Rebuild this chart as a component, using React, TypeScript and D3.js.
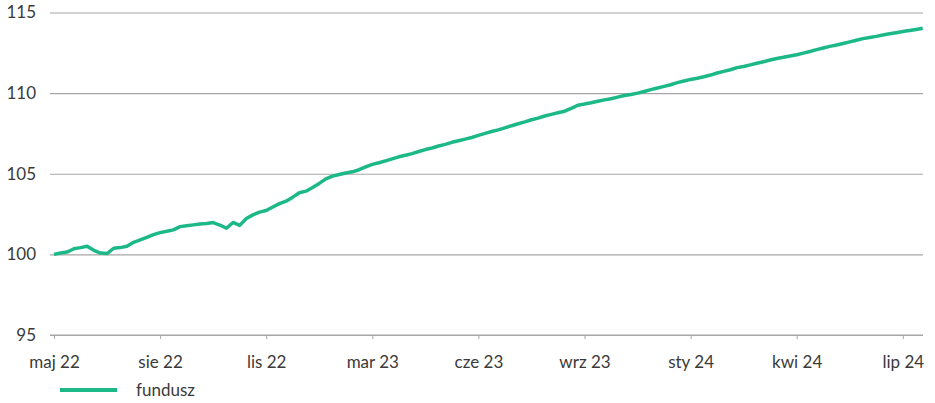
import React, { useEffect, useRef } from 'react';
import * as d3 from 'd3';

// fund value index, one point per period
const fundValues: number[] = [
  100.0, 100.08, 100.15, 100.35, 100.42, 100.5, 100.25, 100.08, 100.05, 100.38,
  100.42, 100.5, 100.75, 100.9, 101.05, 101.22, 101.35, 101.43, 101.52, 101.72,
  101.78, 101.83, 101.88, 101.92, 101.97, 101.82, 101.62, 101.98, 101.8, 102.22,
  102.45, 102.62, 102.72, 102.94, 103.15, 103.3, 103.55, 103.82, 103.92, 104.15,
  104.4, 104.68, 104.85, 104.95, 105.05, 105.12, 105.25, 105.42, 105.58, 105.68,
  105.8, 105.92, 106.05, 106.15, 106.25, 106.38, 106.5, 106.6, 106.72, 106.82,
  106.95, 107.05, 107.15, 107.25, 107.38, 107.5, 107.62, 107.72, 107.85, 107.98,
  108.1, 108.22, 108.35, 108.45, 108.58, 108.68, 108.78, 108.88, 109.05, 109.25,
  109.32, 109.4, 109.5, 109.58, 109.65, 109.75, 109.85, 109.92, 110.0, 110.1,
  110.22, 110.32, 110.42, 110.52, 110.65, 110.75, 110.85, 110.92, 111.02, 111.12,
  111.25, 111.35, 111.45, 111.58, 111.65, 111.75, 111.85, 111.95, 112.05, 112.15,
  112.22, 112.3, 112.38, 112.48, 112.58, 112.7, 112.8, 112.9, 112.98, 113.08,
  113.18, 113.28, 113.38, 113.45, 113.52, 113.6, 113.68, 113.75, 113.82, 113.88,
  113.95, 114.02,
];

// one label every 16 points
const tickLabels: string[] = [
  'maj 22', 'sie 22', 'lis 22', 'mar 23', 'cze 23', 'wrz 23', 'sty 24', 'kwi 24', 'lip 24',
];
const tickEvery = 16;

const yTicks: number[] = [95, 100, 105, 110, 115];
const seriesName = 'fundusz';

const App: React.FC = () => {
  const svgRef = useRef<SVGSVGElement>(null);

  useEffect(() => {
    if (!svgRef.current) return;

    const svg = d3.select(svgRef.current);
    svg.selectAll('*').remove();

    const width = 935;
    const height = 403;
    const left = 50;
    const right = 923;
    const font = 'Lato, "Open Sans", sans-serif';
    const textColor = '#3a3a3a';
    const gridColor = '#a6a6a6';
    const lineColor = '#1db888';

    svg.attr('width', width).attr('height', height);

    // scales
    const step = 106.1 / tickEvery;
    const x = d3.scaleLinear()
      .domain([0, fundValues.length - 1])
      .range([54, 54 + (fundValues.length - 1) * step]);

    const y = d3.scaleLinear()
      .domain([95, 115])
      .range([335, 12.5]);

    // gridlines + y labels
    const yAxis = svg.append('g')
      .attr('transform', `translate(${left},0)`)
      .call(
        d3.axisLeft(y)
          .tickValues(yTicks)
          .tickSize(-(right - left))
          .tickPadding(14)
          .tickFormat(d => String(d))
      );
    yAxis.select('.domain').remove();
    yAxis.selectAll('.tick line')
      .attr('stroke', gridColor)
      .attr('stroke-width', 1.2);
    yAxis.selectAll('.tick text')
      .attr('fill', textColor)
      .attr('font-family', font)
      .attr('font-size', 17);

    // x axis with categorical labels
    const xTickIdx = tickLabels.map((_, i) => i * tickEvery);
    const xAxis = svg.append('g')
      .attr('transform', `translate(0,${y(95)})`)
      .call(
        d3.axisBottom(x)
          .tickValues(xTickIdx)
          .tickSize(4)
          .tickSizeOuter(0)
          .tickPadding(17)
          .tickFormat((d, i) => tickLabels[i])
      );
    xAxis.select('.domain')
      .attr('d', `M${left},0H${right}`)
      .attr('stroke', gridColor)
      .attr('stroke-width', 1.2);
    xAxis.selectAll('.tick line').attr('stroke', gridColor);
    xAxis.selectAll('.tick text')
      .attr('fill', textColor)
      .attr('font-family', font)
      .attr('font-size', 17);

    // series line
    const line = d3.line<number>()
      .x((d, i) => x(i))
      .y(d => y(d));

    svg.append('path')
      .datum(fundValues)
      .attr('fill', 'none')
      .attr('stroke', lineColor)
      .attr('stroke-width', 3.5)
      .attr('stroke-linejoin', 'round')
      .attr('d', line);

    // legend
    const legend = svg.append('g').attr('transform', 'translate(60,390)');
    legend.append('line')
      .attr('x1', 0)
      .attr('x2', 57)
      .attr('stroke', lineColor)
      .attr('stroke-width', 4);
    legend.append('text')
      .attr('x', 76)
      .attr('dy', '0.35em')
      .attr('fill', textColor)
      .attr('font-family', font)
      .attr('font-size', 17)
      .text(seriesName);
  }, []);

  return (
    <div style={{ position: 'absolute', left: 0, top: 0 }}>
      <svg ref={svgRef}></svg>
    </div>
  );
};

export default App;
